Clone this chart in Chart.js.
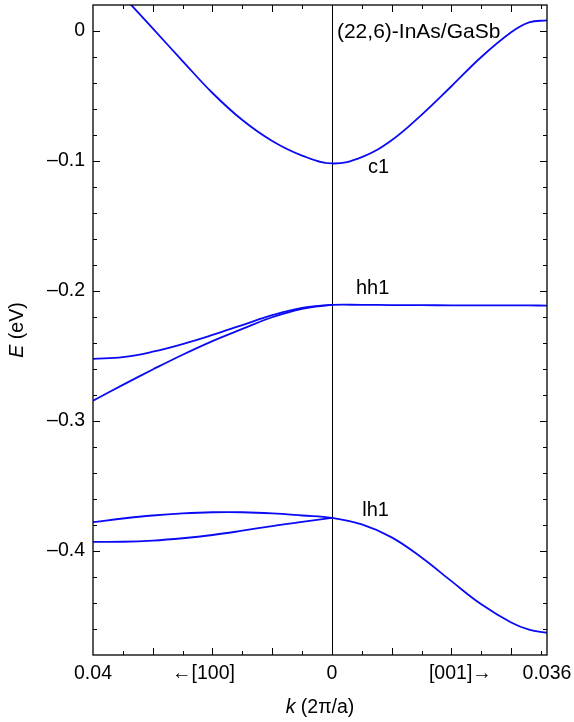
<!DOCTYPE html>
<html lang="en">
<head>
<meta charset="UTF-8">
<title>(22,6)-InAs/GaSb subbands</title>
<style>
    html, body { margin: 0; padding: 0; background: #fff; }
    canvas { display: block; }
</style>
</head>
<body>
<canvas id="bands" width="574" height="722"></canvas>

<script src="https://cdn.jsdelivr.net/npm/chart.js"></script>
<script>
// k in units of 2π/a; negative side is the [100] direction, positive side [001]
const kLeft = [-0.04, -0.035, -0.03, -0.025, -0.02, -0.015, -0.01, -0.005, 0];
const kRight = [0, 0.005, 0.01, 0.015, 0.02, 0.025, 0.03, 0.033, 0.036];

// subband energies (eV)
const c1Left = [0.052, 0.027, 0.002, -0.0231, -0.0477, -0.0685, -0.0846, -0.0958, -0.1019];
const c1Right = [-0.1019, -0.0970, -0.0840, -0.0645, -0.0425, -0.0200, -0.0010, 0.0066, 0.0082];

const hh1LeftUpper = [-0.2522, -0.2509, -0.2467, -0.2408, -0.2338, -0.2262, -0.2186, -0.2130, -0.2107];
const hh1LeftLower = [-0.2844, -0.2722, -0.2604, -0.2490, -0.2385, -0.2292, -0.2202, -0.2137, -0.2107];
const hh1Right = [-0.2107, -0.2107, -0.2108, -0.2109, -0.2110, -0.2110, -0.2111, -0.2111, -0.2112];

const lh1LeftUpper = [-0.3778, -0.3750, -0.3727, -0.3711, -0.3702, -0.3702, -0.3711, -0.3727, -0.3745];
const lh1LeftLower = [-0.3930, -0.3929, -0.3920, -0.3902, -0.3877, -0.3844, -0.3808, -0.3776, -0.3745];
const lh1Right = [-0.3745, -0.3796, -0.3895, -0.4050, -0.4232, -0.4410, -0.4550, -0.4605, -0.4629];

// axes
const kMin = -0.04, kMax = 0.036;
const eMin = -0.48, eMax = 0.02;
const yMajorTicks = [0, -0.1, -0.2, -0.3, -0.4];
const xMajorTicks = [-0.03, -0.02, -0.01, 0, 0.01, 0.02, 0.03];
const xMinorTicks = [-0.035, -0.025, -0.015, -0.005, 0.005, 0.015, 0.025, 0.035];
const xTickLabels = [[-0.04, '0.04'], [0, '0'], [0.036, '0.036']];
const dirLabels = [[-0.0215, '\u2190[100]'], [0.0215, '[001]\u2192']];
const bandLabels = [[0.0078, -0.1047, 'c1'], [0.0068, -0.1984, 'hh1'], [0.0073, -0.3685, 'lh1']];
const sampleName = '(22,6)-InAs/GaSb';

const FONT = '"Liberation Sans", Arial, sans-serif';
const BLUE = 'rgb(10, 10, 245)';

function series(ks, es) {
    return ks.map((k, i) => ({ x: k, y: es[i] }));
}
const kAll = kLeft.concat(kRight.slice(1));

function band(data) {
    return { data: data, borderColor: BLUE, borderWidth: 1.8, pointRadius: 0, fill: false,
             tension: 0.4 };
}

// frame, inward ticks, labels and titles
const decorations = {
    id: 'decorations',
    beforeDatasetsDraw(chart) {
        const { ctx, chartArea: a, scales: { x } } = chart;
        const x0 = Math.round(x.getPixelForValue(0)) + 0.5;
        ctx.save();
        ctx.strokeStyle = '#000';
        ctx.lineWidth = 1;
        ctx.beginPath();
        ctx.moveTo(x0, a.top);
        ctx.lineTo(x0, a.bottom);
        ctx.stroke();
        ctx.restore();
    },
    afterDraw(chart) {
        const { ctx, chartArea: a, scales: { x, y } } = chart;
        ctx.save();
        ctx.strokeStyle = '#000';
        ctx.lineWidth = 1.3;
        ctx.strokeRect(a.left, a.top, a.right - a.left, a.bottom - a.top);

        ctx.lineWidth = 1;
        ctx.beginPath();
        // y ticks, left and right
        for (let v = -0.46; v < 0.005; v += 0.02) {
            const py = Math.round(y.getPixelForValue(v)) + 0.5;
            const major = yMajorTicks.some(t => Math.abs(t - v) < 1e-6);
            const len = major ? 7 : 4;
            ctx.moveTo(a.left, py); ctx.lineTo(a.left + len, py);
            ctx.moveTo(a.right, py); ctx.lineTo(a.right - len, py);
        }
        // x ticks, bottom and top
        xMajorTicks.concat(xMinorTicks).forEach(v => {
            const px = Math.round(x.getPixelForValue(v)) + 0.5;
            const len = xMajorTicks.includes(v) ? 7 : 4;
            ctx.moveTo(px, a.bottom); ctx.lineTo(px, a.bottom - len);
            ctx.moveTo(px, a.top); ctx.lineTo(px, a.top + len);
        });
        ctx.stroke();

        ctx.fillStyle = '#000';
        ctx.font = '19.5px ' + FONT;
        ctx.textBaseline = 'middle';
        ctx.textAlign = 'right';
        yMajorTicks.forEach(v => {
            const txt = v === 0 ? '0' : '\u2013' + Math.abs(v).toFixed(1);
            ctx.fillText(txt, a.left - 8, y.getPixelForValue(v));
        });
        ctx.textAlign = 'center';
        xTickLabels.concat(dirLabels).forEach(([v, txt]) => {
            ctx.fillText(txt, x.getPixelForValue(v), a.bottom + 18.5);
        });

        // band labels
        ctx.font = '20px ' + FONT;
        bandLabels.forEach(([k, e, txt]) => {
            ctx.fillText(txt, x.getPixelForValue(k), y.getPixelForValue(e));
        });
        ctx.textAlign = 'left';
        ctx.font = '21px ' + FONT;
        ctx.fillText(sampleName, x.getPixelForValue(0) + 5, a.top + 27.5);

        // axis titles with italic symbol
        drawMixed(ctx, 'k', ' (2\u03c0/a)', (a.left + a.right) / 2, a.bottom + 53, 0);
        drawMixed(ctx, 'E', ' (eV)', 18, (a.top + a.bottom) / 2, -Math.PI / 2);
        ctx.restore();
    }
};

function drawMixed(ctx, sym, rest, cx, cy, angle) {
    ctx.save();
    ctx.translate(cx, cy);
    ctx.rotate(angle);
    ctx.textAlign = 'left';
    ctx.textBaseline = 'middle';
    ctx.font = 'italic 19.5px ' + FONT;
    const w1 = ctx.measureText(sym).width;
    ctx.font = '19.5px ' + FONT;
    const w2 = ctx.measureText(rest).width;
    const start = -(w1 + w2) / 2;
    ctx.font = 'italic 19.5px ' + FONT;
    ctx.fillText(sym, start, 0);
    ctx.font = '19.5px ' + FONT;
    ctx.fillText(rest, start + w1, 0);
    ctx.restore();
}

new Chart(document.getElementById('bands'), {
    type: 'line',
    data: {
        datasets: [
            band(series(kAll, c1Left.concat(c1Right.slice(1)))),
            band(series(kAll, hh1LeftUpper.concat(hh1Right.slice(1)))),
            band(series(kLeft, hh1LeftLower)),
            band(series(kAll, lh1LeftUpper.concat(lh1Right.slice(1)))),
            band(series(kLeft, lh1LeftLower))
        ]
    },
    options: {
        responsive: false,
        animation: false,
        devicePixelRatio: 1,
        layout: { padding: { left: 93, right: 27, top: 5, bottom: 67 } },
        scales: {
            x: { type: 'linear', min: kMin, max: kMax, display: false },
            y: { type: 'linear', min: eMin, max: eMax, display: false }
        },
        plugins: {
            legend: { display: false },
            tooltip: { enabled: false }
        }
    },
    plugins: [decorations]
});
</script>
</body>
</html>
